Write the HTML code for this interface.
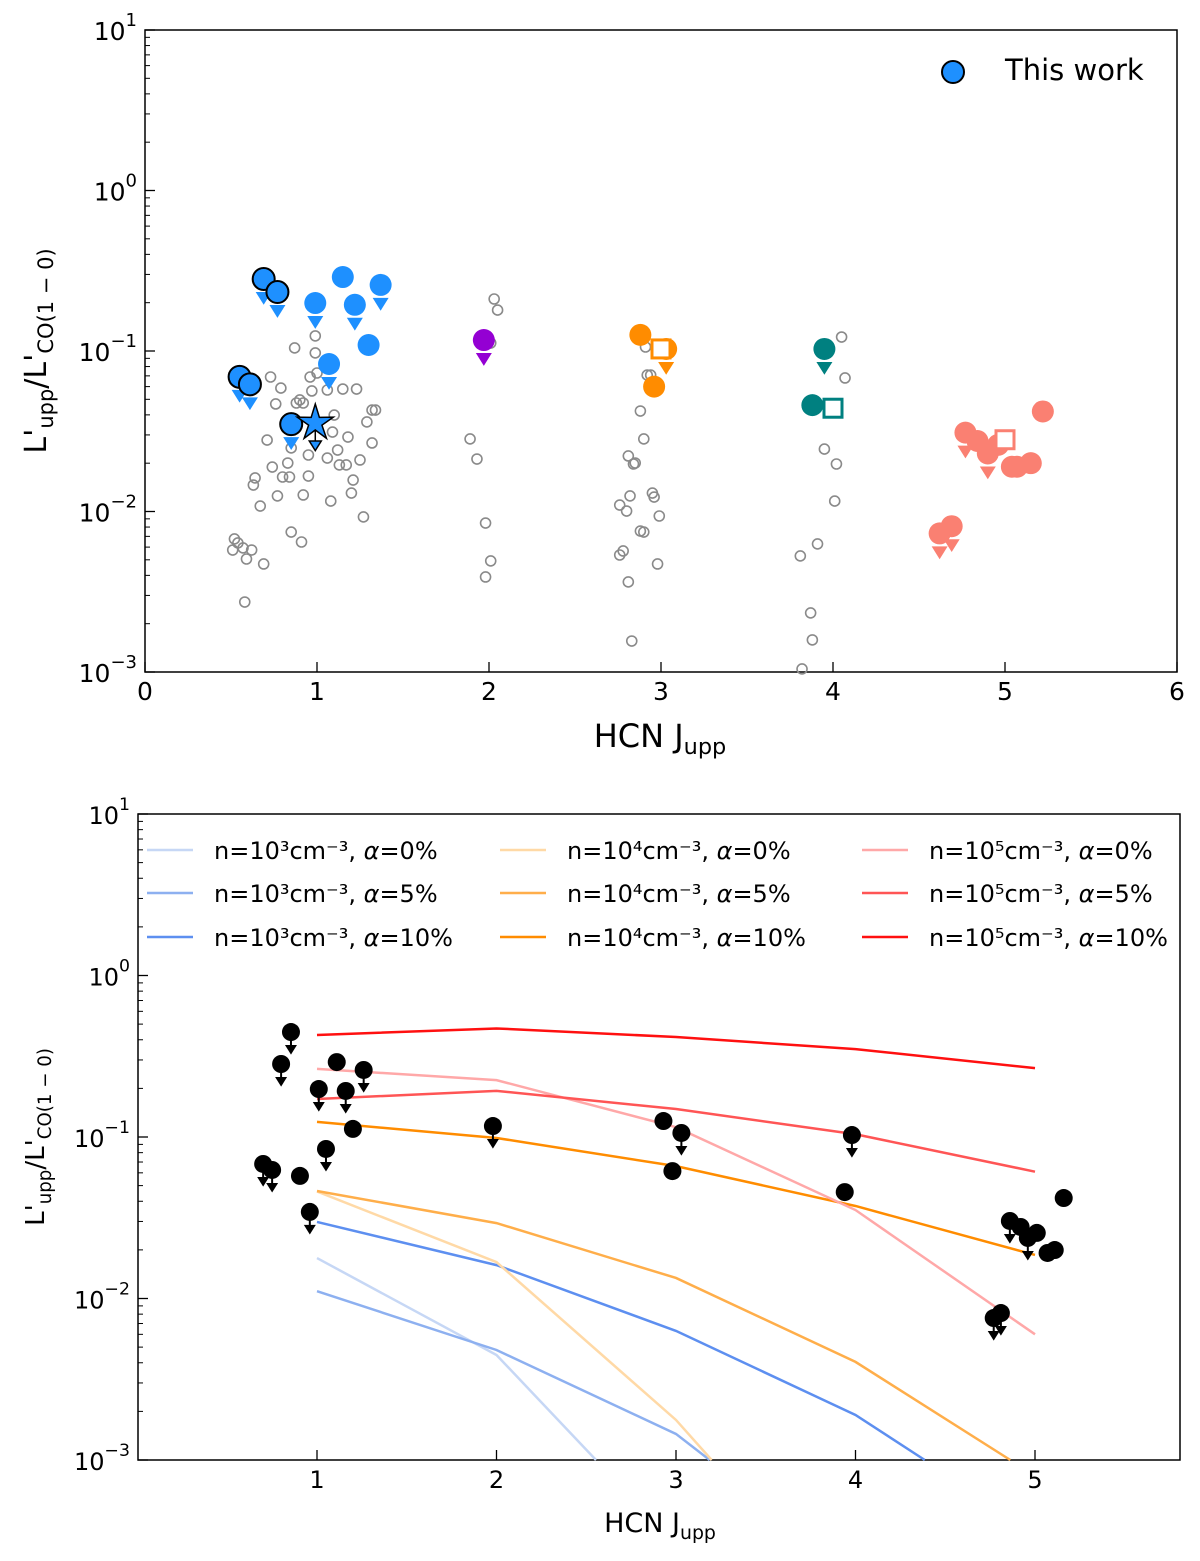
<!DOCTYPE html>
<html><head><meta charset="utf-8"><style>
html,body{margin:0;padding:0;background:#fff;width:1200px;height:1561px;overflow:hidden;}
svg{display:block;font-family:"DejaVu Sans","Liberation Sans",sans-serif;}
</style></head><body>
<svg id="fig" width="1200" height="1561" viewBox="0 0 1200 1561" xmlns="http://www.w3.org/2000/svg"></svg>
<script>
// ---------- TOP PANEL DATA ----------
const litJ = [0.99,0.87,0.99,0.73,0.96,1.00,0.79,0.97,1.06,1.15,1.23,0.76,0.88,0.90,0.92,1.32,1.34,1.29,1.10,1.09,1.18,1.32,0.71,0.85,0.95,1.06,1.12,1.13,1.17,1.25,0.74,0.83,0.80,0.84,0.95,0.64,0.63,0.77,0.92,1.08,1.20,1.21,0.67,1.27,0.85,0.91,0.52,0.54,0.51,0.57,0.62,0.59,0.69,0.58,
 1.89,1.93,1.98,2.01,1.98,2.03,2.05,2.01,
 2.91,2.92,2.88,2.90,2.81,2.84,2.85,2.76,2.80,2.82,2.95,2.96,2.99,2.88,2.90,2.78,2.76,2.81,2.98,2.83,2.94,
 4.05,4.07,3.95,4.02,4.01,3.81,3.91,3.87,3.88,3.82];
const litLogR = [-0.906,-0.981,-1.012,-1.162,-1.162,-1.137,-1.231,-1.249,-1.243,-1.237,-1.237,-1.330,-1.324,-1.305,-1.324,-1.368,-1.368,-1.442,-1.399,-1.505,-1.536,-1.573,-1.555,-1.604,-1.648,-1.667,-1.617,-1.710,-1.710,-1.679,-1.723,-1.698,-1.785,-1.785,-1.779,-1.791,-1.835,-1.903,-1.897,-1.935,-1.885,-1.804,-1.966,-2.034,-2.128,-2.190,-2.171,-2.196,-2.240,-2.227,-2.240,-2.296,-2.327,-2.564,
 -1.548,-1.673,-2.072,-2.308,-2.408,-0.676,-0.745,-0.950,
 -0.975,-1.150,-1.374,-1.548,-1.654,-1.704,-1.698,-1.960,-1.997,-1.903,-1.885,-1.910,-2.028,-2.122,-2.128,-2.246,-2.271,-2.439,-2.327,-2.807,-1.150,
 -0.913,-1.168,-1.611,-1.704,-1.935,-2.277,-2.202,-2.632,-2.800,-2.981];
const blueJ = [0.69,0.77,0.99,1.15,1.22,1.37,1.30,1.07,0.55,0.61,0.85];
const blueR = [0.281,0.233,0.199,0.289,0.194,0.258,0.109,0.083,0.069,0.062,0.035];
const blueLim = [1,1,1,0,1,1,0,1,1,1,1];
const blueEdge = [1,1,0,0,0,0,0,0,1,1,1];
const starJ = [0.99], starR = [0.0356];
const purpleJ=[1.97], purpleR=[0.117], purpleLim=[1];
const orangeJ=[2.88,3.03,2.96], orangeR=[0.126,0.103,0.060], orangeLim=[0,1,0];
const orangeSqJ=[3.0], orangeSqR=[0.103];
const tealJ=[3.95,3.88], tealR=[0.103,0.046], tealLim=[1,0];
const tealSqJ=[4.0], tealSqR=[0.044];
const salmonJ=[4.77,4.84,4.90,4.96,5.04,5.07,5.15,5.22,4.62,4.69];
const salmonR=[0.031,0.0275,0.023,0.026,0.019,0.019,0.020,0.042,0.0073,0.0081];
const salmonLim=[1,0,1,0,0,0,0,0,1,1];
const salmonSqJ=[5.0], salmonSqR=[0.028];

// ---------- BOTTOM PANEL DATA ----------
const modelJ = [1,2,3,4,5];
const m3a0 = [0.0178,0.00447,0.0003,0.00003,0.000003];
const m3a5 = [0.0111,0.0048,0.00145,0.0002,0.00003];
const m3a10 = [0.0298,0.0161,0.0063,0.0019,0.00036];
const m4a0 = [0.046,0.0168,0.00177,0.0001,0.00001];
const m4a5 = [0.0463,0.0293,0.0134,0.00405,0.0008];
const m4a10 = [0.124,0.0986,0.066,0.0374,0.0186];
const m5a0 = [0.264,0.225,0.115,0.0353,0.0060];
const m5a5 = [0.172,0.193,0.149,0.104,0.061];
const m5a10 = [0.428,0.47,0.416,0.35,0.267];
const modelDens = ["10³","10³","10³","10⁴","10⁴","10⁴","10⁵","10⁵","10⁵"];
const modelAlpha = ["0%","5%","10%","0%","5%","10%","0%","5%","10%"];
const obsJ = [0.855,0.80,1.11,1.26,1.01,1.16,1.20,1.05,0.70,0.75,0.905,0.96,1.98,2.93,3.03,2.98,3.98,3.94,4.86,4.92,4.96,5.01,5.07,5.11,5.16,4.77,4.81];
const obsLogR = [-0.350,-0.548,-0.536,-0.585,-0.703,-0.715,-0.950,-1.074,-1.167,-1.204,-1.241,-1.464,-0.932,-0.901,-0.975,-1.211,-0.988,-1.341,-1.520,-1.557,-1.625,-1.594,-1.718,-1.700,-1.378,-2.121,-2.090];
const obsLim = [1,1,0,1,1,1,0,1,1,1,0,1,1,0,1,0,1,0,1,0,1,0,0,0,0,1,1];

const NS="http://www.w3.org/2000/svg";
const svg=document.getElementById('fig');
function el(tag,attrs,parent){const e=document.createElementNS(NS,tag);for(const k in attrs)e.setAttribute(k,attrs[k]);(parent||svg).appendChild(e);return e;}

const T={x0:145,x1:1177,y0:30,y1:672};
const tx=v=>T.x0+(v/6)*(T.x1-T.x0);
const ty=v=>T.y0+(1-Math.log10(v))/4*(T.y1-T.y0);
const B={x0:138,x1:1180,y0:814,y1:1460};
const bx=v=>137.5+179.5*v;
const by=v=>B.y0+(1-Math.log10(v))/4*(B.y1-B.y0);

function axes(P,xs,ys,xticks,xlabY,fs,name){
  const g=el('g',{});
  
  
  el('rect',{x:P.x0,y:P.y0,width:P.x1-P.x0,height:P.y1-P.y0,fill:'none',stroke:'#000','stroke-width':1.5},g);
  for(let d=-3;d<=1;d++){
    const y=ys(Math.pow(10,d));
    el('line',{x1:P.x0,x2:P.x0+10,y1:y,y2:y,stroke:'#000','stroke-width':1.3},g);
    const t=el('text',{x:P.x0-8,y:y+10,'text-anchor':'end','font-size':fs},g);
    
    
    t.textContent='10';
    const s=el('tspan',{dy:-14,'font-size':fs*0.72},t);s.textContent=String(d).replace('-','−');
    if(d<1)for(let m=2;m<=9;m++){const yy=ys(m*Math.pow(10,d));el('line',{x1:P.x0,x2:P.x0+5,y1:yy,y2:yy,stroke:'#000','stroke-width':1},g);}
  }
  xticks.forEach(v=>{const x=xs(v);
    el('line',{x1:x,x2:x,y1:P.y1,y2:P.y1-10,stroke:'#000','stroke-width':1.3},g);
    const t=el('text',{x:x,y:xlabY,'text-anchor':'middle','font-size':fs},g);
    
    
    t.textContent=v;});
}
axes(T,tx,ty,[0,1,2,3,4,5,6],700,25,'top');
axes(B,bx,by,[1,2,3,4,5],1488,24,'bottom');

function ytitle(cx,cy,fs,name){
  const t=el('text',{transform:`translate(${cx},${cy}) rotate(-90)`,'text-anchor':'middle','font-size':fs});
  
  
  t.innerHTML=`L'<tspan font-size="${fs*0.7}" dy="7">upp</tspan><tspan dy="-7">/L'</tspan><tspan font-size="${fs*0.7}" dy="7">CO(1 − 0)</tspan>`;
}
function xtitle(cx,cy,fs,name){
  const t=el('text',{x:cx,y:cy,'text-anchor':'middle','font-size':fs});
  
  
  t.innerHTML=`HCN J<tspan font-size="${fs*0.7}" dy="7">upp</tspan>`;
}
ytitle(46,351,30,'top-y-axis-title');
xtitle(660,747,32,'top-x-axis-title');
ytitle(44,1137,26,'bottom-y-axis-title');
xtitle(660,1532,27,'bottom-x-axis-title');

const gt=el('g',{});

litJ.forEach((j,i)=>{
  const c=el('circle',{cx:tx(j),cy:ty(Math.pow(10,litLogR[i])),r:5,fill:'none',stroke:'#8a8a8a','stroke-width':1.6},gt);
  
  
});
function tri(x,y,s,col,parent,edge){return el('polygon',{points:`${x-s},${y} ${x+s},${y} ${x},${y+s*1.6}`,fill:col,stroke:edge?'#000':'none','stroke-width':1.5},parent);}
function topPts(J,R,L,col,name,edge){
  J.forEach((j,i)=>{const x=tx(j),y=ty(R[i]);
    if(L&&L[i]){const t=tri(x,y+13,8,col,gt,false);
      
      }
    const c=el('circle',{cx:x,cy:y,r:11,fill:col,stroke:(edge&&edge[i])?'#000':'none','stroke-width':2},gt);
    
    });
}
function sq(J,R,col,name){J.forEach((j,i)=>{const s=el('rect',{x:tx(j)-9,y:ty(R[i])-9,width:18,height:18,fill:'#fff',stroke:col,'stroke-width':3},gt);
  
  });}
topPts(blueJ,blueR,blueLim,'#1e90ff','this-work',blueEdge);
starJ.forEach((j,i)=>{const x=tx(j),y=ty(starR[i]);
  el('line',{x1:x,x2:x,y1:y,y2:y+22,stroke:'#000','stroke-width':1.5},gt);
  tri(x,y+18,6,'#1e90ff',gt,true);
  let p='';for(let k=0;k<10;k++){const r=k%2?7:19;const a=-Math.PI/2+k*Math.PI/5;p+=`${x+r*Math.cos(a)},${y+r*Math.sin(a)} `;}
  const s=el('polygon',{points:p,fill:'#1e90ff',stroke:'#000','stroke-width':1.5},gt);
  
  });
topPts(purpleJ,purpleR,purpleLim,'#9400d3','j2');
topPts(orangeJ,orangeR,orangeLim,'#ff8c00','j3');
sq(orangeSqJ,orangeSqR,'#ff8c00','j3-square');
topPts(tealJ,tealR,tealLim,'#008080','j4');
sq(tealSqJ,tealSqR,'#008080','j4-square');
topPts(salmonJ,salmonR,salmonLim,'#fa8072','j5');
sq(salmonSqJ,salmonSqR,'#fa8072','j5-square');

const lg=el('g',{});


el('circle',{cx:953,cy:72,r:11,fill:'#1e90ff',stroke:'#000','stroke-width':2},lg);
el('text',{x:1005,y:80,'font-size':29},lg).textContent='This work';

const gb=el('g',{});
const models=[m3a0,m3a5,m3a10,m4a0,m4a5,m4a10,m5a0,m5a5,m5a10];
const cols=['#c6d7f5','#8db0f0','#5d8ff0','#ffd9a6','#ffae4a','#ff8c00','#ffa8a8','#ff5555','#ff1010'];
const YMIN=-3; // log10 of lower axis limit
models.forEach((m,k)=>{
  // clip polyline in data space at y = 1e-3
  let d='';
  for(let i=0;i<m.length;i++){
    const l=Math.log10(m[i]);
    if(l>=YMIN){ d+=(d?'L':'M')+bx(modelJ[i])+','+by(m[i])+' '; }
    else {
      if(i>0){const lp=Math.log10(m[i-1]);
        if(lp>=YMIN){const f=(lp-YMIN)/(lp-l);const jj=modelJ[i-1]+f*(modelJ[i]-modelJ[i-1]);
          d+='L'+bx(jj)+','+by(Math.pow(10,YMIN))+' ';}}
      break;
    }
  }
  const p=el('path',{d:d,fill:'none',stroke:cols[k],'stroke-width':2.5},gb);
  
  
});
obsJ.forEach((j,i)=>{const x=bx(j),y=by(Math.pow(10,obsLogR[i]));
  if(obsLim[i]){el('line',{x1:x,x2:x,y1:y,y2:y+14,stroke:'#000','stroke-width':2},gb);
    const t=tri(x,y+13,6,'#000',gb,false);
    
    }
  const c=el('circle',{cx:x,cy:y,r:9,fill:'#000'},gb);
  
  
});
const colX=[147,500,862], rowY=[850,893,937];
modelDens.forEach((dn,k)=>{
  const c=Math.floor(k/3), r=k%3;
  const g=el('g',{});
  
  
  el('line',{x1:colX[c],x2:colX[c]+46,y1:rowY[r],y2:rowY[r],stroke:cols[k],'stroke-width':2.5},g);
  const t=el('text',{x:colX[c]+67,y:rowY[r]+9,'font-size':24},g);
  t.innerHTML=`n=${dn}cm⁻³, <tspan font-style="italic">α</tspan>=${modelAlpha[k]}`;
});
</script>
</body></html>
